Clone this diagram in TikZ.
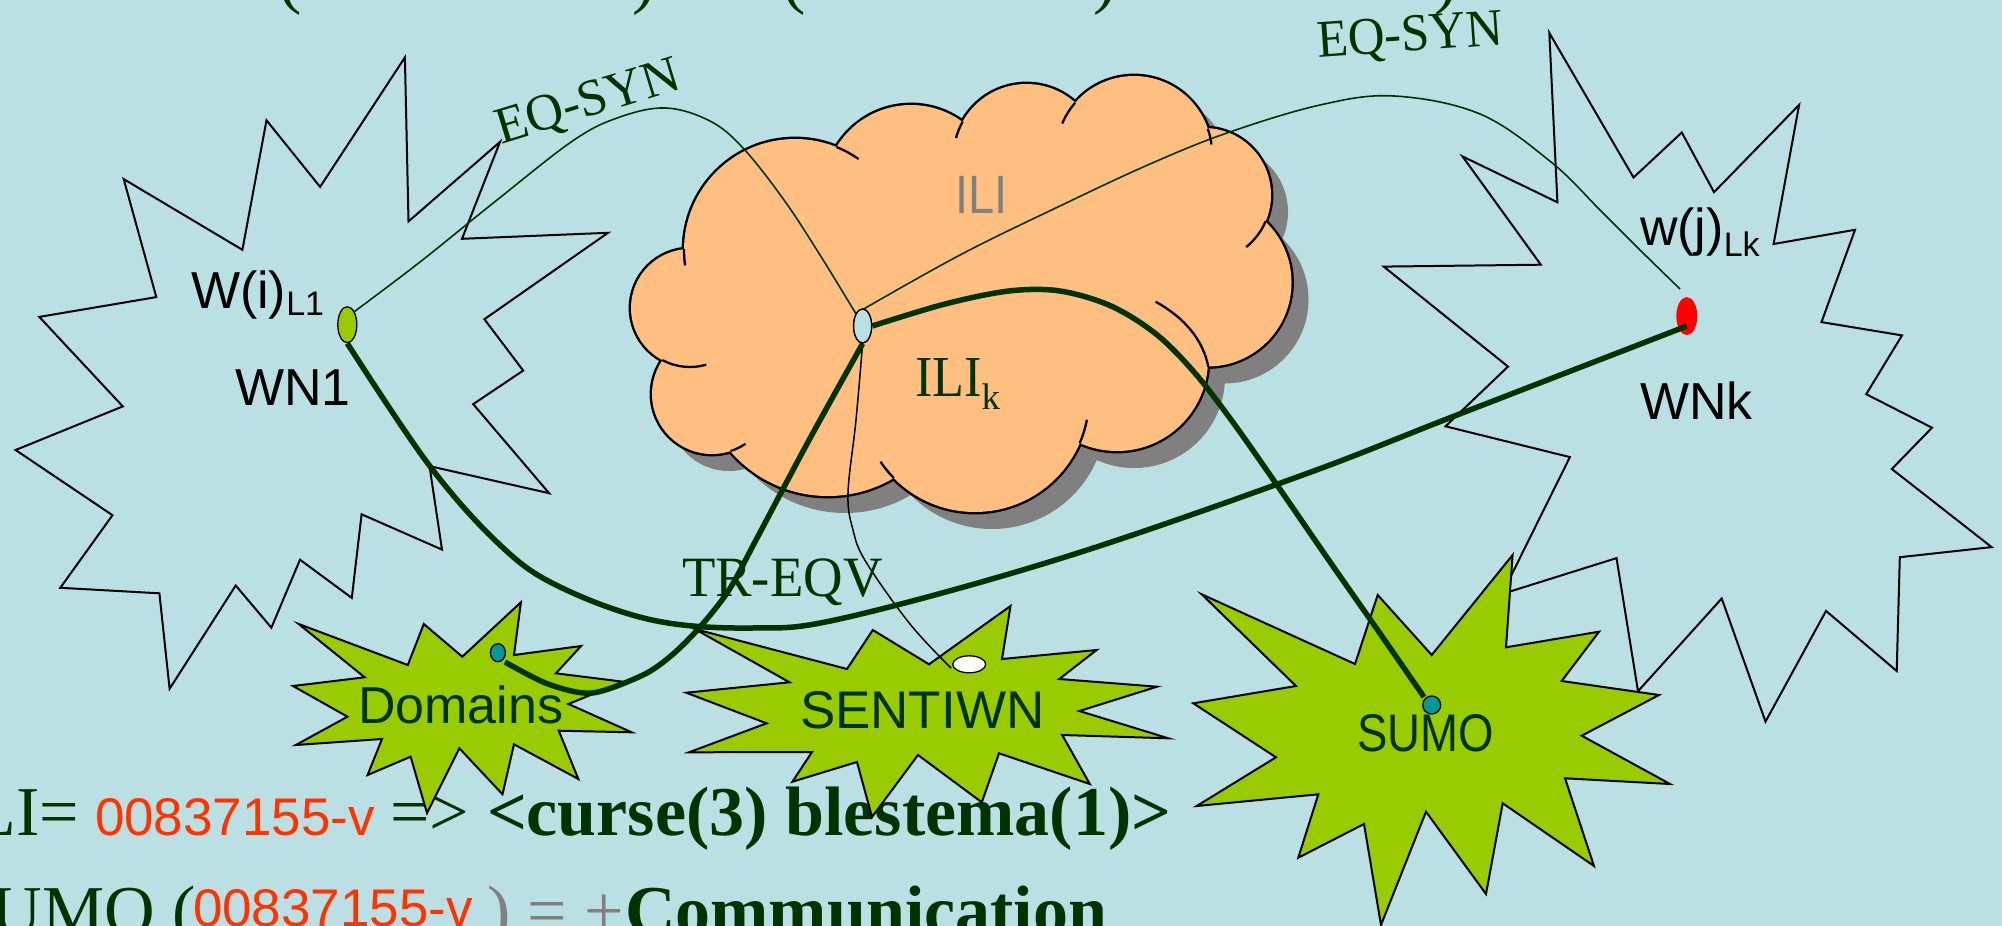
\documentclass[tikz,border=0pt]{standalone}
\usepackage{fontspec}
\usepackage{graphicx}
\setmainfont{Liberation Serif}
\newfontfamily\sansf{Liberation Sans}
\usetikzlibrary{shapes.geometric}

\definecolor{slidebg}{RGB}{187,224,227}
\definecolor{dkgreen}{RGB}{0,51,0}
\definecolor{cloudfill}{RGB}{255,191,128}
\definecolor{shadowgray}{RGB}{128,128,128}
\definecolor{burstgreen}{RGB}{153,204,0}
\definecolor{tealdot}{RGB}{0,153,153}
\definecolor{idred}{RGB}{255,51,0}
\definecolor{txtgray}{RGB}{128,128,128}

\newcommand\setfs[1]{\fontsize{#1}{#1}\selectfont}

\begin{document}
\begin{tikzpicture}[x=1pt,y=-1pt,
  lbl/.style={inner sep=0pt, outer sep=0pt},
  outline/.style={draw=black, line width=2pt, line join=miter},
  burstfill/.style={outline, fill=burstgreen},
  dot/.style={ellipse, draw=black, line width=1.3pt, inner sep=0pt},
  thickwire/.style={draw=dkgreen, line width=5.5pt},
  thinwire/.style={draw=dkgreen, line width=1.6pt},
  plainwire/.style={draw=black, line width=1.5pt}]

\useasboundingbox (0,0) rectangle (2002,926);
\clip (0,0) rectangle (2002,926);
\fill[slidebg] (0,0) rectangle (2002,926);

% ---- lower edge of the title line above
\node[lbl, anchor=base west, text=dkgreen] (tA) at (278,0) {\setfs{70}(};
\node[lbl, anchor=base west, text=dkgreen] (tB) at (632,0) {\setfs{70})};
\node[lbl, anchor=base west, text=dkgreen] (tC) at (782,0) {\setfs{70}(};
\node[lbl, anchor=base west, text=dkgreen] (tD) at (1093,0) {\setfs{70})};
\node[lbl, anchor=base west, text=dkgreen] (tE) at (1434,0) {\setfs{70})};

% ---- bottom text lines
\node[lbl, anchor=base east, text=dkgreen] (iliEq) at (79,835) {\setfs{70}ILI=};
\node[lbl, anchor=base west, text=idred] (iliId) at (95,835) {\sansf\setfs{53}00837155-v};
\node[lbl, anchor=base west, text=dkgreen] (iliArrow) at (390,835) {\setfs{70}=>};
\node[lbl, anchor=base west, text=dkgreen] (iliSyn) at (487,835) {\setfs{70}\bfseries <curse(3) blestema(1)>};

\node[lbl, anchor=base east, text=dkgreen] (sumoEq) at (196,934) {\setfs{70}SUMO (};
\node[lbl, anchor=base west, text=idred] (sumoId) at (193,926) {\sansf\setfs{53}00837155-v};
\node[lbl, anchor=base west, text=txtgray] (sumoOp) at (487,934) {\setfs{70}) = +};
\node[lbl, anchor=base west, text=dkgreen] (sumoVal) at (625,934) {\setfs{70}\bfseries Communication};

% ---- wordnet bursts (outline only)
\draw[outline] (404.9,57.4) -- (408.5,221.4) -- (500,141.9) -- (462,238.8) -- (608,232.8)
  -- (484.4,319.2) -- (523.2,370.6) -- (473.2,404.1) -- (549.1,493.2) -- (429.5,466.1)
  -- (442,549.6) -- (361.6,514.3) -- (351.8,597.9) -- (300,559.7) -- (271.4,627.7)
  -- (235.7,585.5) -- (169.6,688.8) -- (159.4,593.3) -- (60.3,587.8) -- (112.5,515.2)
  -- (15.6,450) -- (122.8,406.4) -- (39.3,316.9) -- (156.3,297.1) -- (123.7,179.1)
  -- (242.4,249.8) -- (266.5,120.3) -- (320.1,186.9) -- cycle;
\draw[outline] (1549.3,32.9) -- (1633.5,177.5) -- (1681.8,132.5) -- (1714,192.2) -- (1799.1,104.9)
  -- (1773.6,244) -- (1855,229.8) -- (1821.5,322.1) -- (1902,335.4) -- (1866.2,394.2)
  -- (1932,427.7) -- (1891.8,469) -- (1991.6,547.1) -- (1899.8,557.2) -- (1896.7,671)
  -- (1826,610.9) -- (1765.5,721.6) -- (1721.7,598.5) -- (1638,691.2) -- (1616.5,558.1)
  -- (1502,594) -- (1569.9,457.1) -- (1445.5,426.3) -- (1508,366.6) -- (1383.7,266.6)
  -- (1540.8,264.7) -- (1462.5,156.4) -- (1557.4,202.3) -- cycle;

% ---- ILI cloud: shadow, outline, body, inner arcs
\begin{scope}[shift={(17,17)}]
  \fill[shadowgray] (687,249) -- (836.5,147) -- (962.7,121.7) -- (1075.2,102.7) -- (1208.3,128.3)
    -- (1265.7,221.7) -- (1208.3,366.7) -- (1079.8,443.3) -- (893.8,478) -- (730.9,451.7) -- (662,360) -- cycle;
  \fill[shadowgray] \foreach \cx/\cy/\r in {795/250/111, 911/192/87, 1026.5/157/73, 1134/154/78,
      1204/195/67, 1207.5/282.5/84, 1117/360/91, 975/398/114, 828/367/129, 712/394/60, 690/308/59}
      {(\cx,\cy) circle[radius=\r]};
\end{scope}
\draw[black, line width=4.8pt] \foreach \cx/\cy/\r in {795/250/111, 911/192/87, 1026.5/157/73, 1134/154/78,
    1204/195/67, 1207.5/282.5/84, 1117/360/91, 975/398/114, 828/367/129, 712/394/60, 690/308/59}
    {(\cx,\cy) circle[radius=\r]};
\fill[cloudfill] (687,249) -- (836.5,147) -- (962.7,121.7) -- (1075.2,102.7) -- (1208.3,128.3)
  -- (1265.7,221.7) -- (1208.3,366.7) -- (1079.8,443.3) -- (893.8,478) -- (730.9,451.7) -- (662,360) -- cycle;
\fill[cloudfill] \foreach \cx/\cy/\r in {795/250/111, 911/192/87, 1026.5/157/73, 1134/154/78,
    1204/195/67, 1207.5/282.5/84, 1117/360/91, 975/398/114, 828/367/129, 712/394/60, 690/308/59}
    {(\cx,\cy) circle[radius=\r]};
\begin{scope}[black, line width=2.3pt]
  \draw (795,250) ++(-68:111) arc[start angle=-68, end angle=-55, radius=111];
  \draw (1026.5,157) ++(209:73) arc[start angle=209, end angle=195, radius=73];
  \draw (1134,154) ++(221:78) arc[start angle=221, end angle=203, radius=78];
  \draw (1134,154) ++(-19:78) arc[start angle=-19, end angle=-7, radius=78];
  \draw (1204,195) ++(23:67) arc[start angle=23, end angle=51, radius=67];
  \draw (1155.6,301.7) .. controls (1185,318) and (1203,340) .. (1208.3,366.7);
  \draw (975,398) ++(23.4:114) arc[start angle=23.4, end angle=11, radius=114];
  \draw (975,398) ++(135.4:114) arc[start angle=135.4, end angle=146, radius=114];
  \draw (712,394) ++(72:60) arc[start angle=72, end angle=56, radius=60];
  \draw (690,308) ++(118:59) arc[start angle=118, end angle=74, radius=59];
  \draw (795,250) ++(180.5:111) arc[start angle=180.5, end angle=172, radius=111];
\end{scope}
\node[lbl, anchor=base west, text=txtgray] (iliLabel) at (955,213) {\sansf\setfs{54}\scalebox{0.87}[1]{ILI}};
\node[lbl, anchor=base west, text=dkgreen] (ilikLabel) at (915,396.7)
  {\setfs{58}\scalebox{0.9}[1]{ILI}\raisebox{-13pt}{\setfs{37}k}};

% ---- satellite resources
\draw[burstfill] (520.9,602.3) -- (514,655) -- (581.1,646) -- (555.9,673.3) -- (623,681.7)
  -- (568.5,704) -- (631.7,732.3) -- (558.8,730.7) -- (578.3,779) -- (514,744.3)
  -- (502.5,794.3) -- (459.4,748.3) -- (427,813) -- (410.6,756.7) -- (367.6,775)
  -- (382,739) -- (295.8,745) -- (347.5,716.7) -- (293,686) -- (364.7,677.3)
  -- (298.7,624) -- (407.8,665) -- (423.8,624) -- (462.3,656.7) -- cycle;
\draw[burstfill] (694.8,629) -- (847,669) -- (872.8,630) -- (929,664.3) -- (1010.5,606)
  -- (1002,659) -- (1096.6,650) -- (1059.3,679) -- (1157,686.7) -- (1079.4,711)
  -- (1168.4,738.3) -- (1062.2,735) -- (1089.8,784) -- (999,753.3) -- (981.8,802.3)
  -- (918,755) -- (872,817) -- (857,762) -- (792.4,781.7) -- (812,752)
  -- (689,752.3) -- (766.6,723.3) -- (686.2,692.7) -- (789.5,682.3) -- cycle;
\draw[burstfill] (1201.7,594.3) -- (1355,664) -- (1377.7,595) -- (1431.7,655) -- (1512.6,555)
  -- (1506,647.3) -- (1599,631.7) -- (1561.7,681) -- (1659,695) -- (1581.7,735.7)
  -- (1670,784) -- (1565,778.3) -- (1594,866) -- (1502.7,803.3) -- (1486,894)
  -- (1426,811.7) -- (1381,925) -- (1364,824) -- (1298.3,857.7) -- (1318.3,794.3)
  -- (1196.7,806) -- (1276,757.3) -- (1193.3,703.3) -- (1296,686) -- cycle;

\node[lbl, anchor=base west, text=dkgreen] (domLabel) at (358,723) {\sansf\setfs{52}Domains};
\node[lbl, anchor=base west, text=dkgreen] (sentiLabel) at (800,728) {\sansf\setfs{53}SENTIWN};
\node[lbl, anchor=base west, text=dkgreen] (sumoLabel) at (1357,751.7) {\sansf\setfs{53}\scalebox{0.86}[1]{SUMO}};

% ---- word and concept nodes
\node[dot, fill=burstgreen, minimum width=19pt, minimum height=36pt] (wn1dot) at (347.3,324.7) {};
\node[dot, fill=slidebg, minimum width=18pt, minimum height=34pt] (ilidot) at (862.6,326) {};
\node[ellipse, fill=red, inner sep=0pt, minimum width=21pt, minimum height=38pt] (wnkdot) at (1686.8,316.1) {};
\coordinate (eqsynEnd) at (1680,289);

% ---- relation lines
\draw[thinwire] plot[smooth, tension=0.6] coordinates {(wn1dot.north east) (420,262) (497,200) (574,140)
  (620,117) (666,108) (710,121) (743,148) (784,200) (820,255) (ilidot.north west)};
\draw[thinwire] plot[smooth, tension=0.6] coordinates {(ilidot.north west) (960,255) (1062,205) (1150,164)
  (1227,133) (1320,105) (1394,96) (1480,114) (1551,162) (1600,210) (1640,250) (eqsynEnd)};
\draw[plainwire] plot[smooth, tension=0.6] coordinates {(ilidot.south) (856,420) (848,493) (853,530)
  (866,562) (910,624) (951,668)};

\draw[thickwire] plot[smooth, tension=0.6] coordinates {(wn1dot.south) (429,465) (500,545) (558,586)
  (652,620) (752,628) (844,618) (1062,558) (1300,476) (1457,415) ([yshift=-10pt]wnkdot.center)};
\draw[thickwire] plot[smooth, tension=0.5] coordinates {(ilidot.south) (808,442) (756,540) (729,590)
  (700,627) (672,655) (643,675) (592,693) (548,684) (505,662)};
\draw[thickwire] plot[smooth, tension=0.55] coordinates {(ilidot.east) (945,304) (1009,291) (1060,291)
  (1111,306) (1156,334) (1194,372) (1232,421) (1277,485) (1328,559) (1379,632) (1424,697)};

\node[dot, fill=tealdot, minimum width=15pt, minimum height=18pt] (domdot) at (497.9,652.7) {};
\node[dot, fill=tealdot, minimum width=18pt, minimum height=18pt] (sumodot) at (1431.7,705) {};
\node[dot, fill=white, minimum width=33pt, minimum height=17pt] (sentidot) at (969.2,664.3) {};
\node[dot, fill=slidebg, minimum width=18pt, minimum height=34pt] at (ilidot) {};

% ---- labels
\node[lbl, anchor=base west] (wn1word) at (191,308) {\sansf\setfs{52}W(i)\raisebox{-7pt}{\setfs{34}L1}};
\node[lbl, anchor=base west] (wn1name) at (235,405) {\sansf\setfs{52}WN1};
\node[lbl, anchor=base west] (wnkword) at (1640,245) {\sansf\setfs{52}w(j)\raisebox{-11pt}{\setfs{34}Lk}};
\node[lbl, anchor=base west] (wnkname) at (1640,419) {\sansf\setfs{52}WNk};

\node[lbl, anchor=base west, text=dkgreen, rotate=17] (eqsynA) at (501,144) {\setfs{52}EQ-SYN};
\node[lbl, anchor=base west, text=dkgreen, rotate=4] (eqsynB) at (1318,57.5) {\setfs{53}\scalebox{0.96}[1]{EQ-SYN}};
\node[lbl, anchor=base west, text=dkgreen] (treqv) at (682,596) {\setfs{57}\scalebox{0.96}[1]{TR-EQV}};

\end{tikzpicture}
\end{document}
